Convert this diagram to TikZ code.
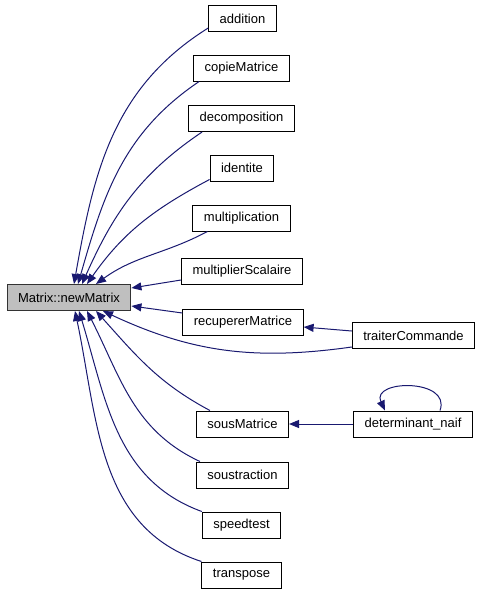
\documentclass[tikz,border=0pt]{standalone}
\usepackage{fontspec}
\setmainfont{Liberation Sans}
\usepackage{tikz}
\usetikzlibrary{arrows.meta}

\definecolor{edgeblue}{RGB}{25,25,112}
\tikzset{
  fn/.style={draw=black, fill=white, line width=1pt, minimum height=26pt,
    inner xsep=11pt, font=\fontsize{13}{15}\selectfont},
  cur/.style={fn, fill=black!25, draw=black!80},
  call/.style={<-, draw=edgeblue, line width=1pt},
}

\begin{document}
\begin{tikzpicture}[x=1pt,y=-1pt,>={Triangle[length=10pt,width=8pt]}]
            \useasboundingbox (0,0) rectangle (480,595);
            % called function
            \node[cur] (nm) at (69,297.5) {Matrix::newMatrix};
            % callers
            \node[fn] (addition) at (242.5,18.5) {addition};
            \node[fn] (copie) at (241.5,68) {copieMatrice};
            \node[fn] (decomp) at (241.5,118.5) {decomposition};
            \node[fn] (identite) at (242,168) {identite};
            \node[fn] (mult) at (241.5,218) {multiplication};
            \node[fn] (multsc) at (242,271) {multiplierScalaire};
            \node[fn] (recup) at (243,322) {recupererMatrice};
            \node[fn] (traiter) at (413.5,335.5) {traiterCommande};
            \node[fn] (sous) at (242.5,424) {sousMatrice};
            \node[fn] (detnaif) at (413,424) {determinant\_naif};
            \node[fn] (soustr) at (242.5,475) {soustraction};
            \node[fn] (speed) at (241.5,525) {speedtest};
            \node[fn] (transp) at (241.5,575) {transpose};
            % edges
            \draw[call] ([xshift=5pt]nm.north) to[out=80,in=212] ([yshift=4pt]addition.south west);
            \draw[call] ([xshift=9pt]nm.north) to[out=74,in=214] ([xshift=6pt]copie.south west);
            \draw[call] ([xshift=13pt]nm.north) to[out=66,in=214] ([xshift=14pt]decomp.south west);
            \draw[call] ([xshift=18pt]nm.north) to[out=55,in=208] ([yshift=2pt]identite.south west);
            \draw[call] ([xshift=27pt]nm.north) to[out=36,in=208] ([xshift=15pt]mult.south west);
            \draw[call] ([yshift=9.5pt]nm.east) -- ([yshift=-9pt]multsc.west);
            \draw[call] ([yshift=-8.5pt]nm.east) -- ([yshift=9pt]recup.west);
            \draw[call] ([xshift=34pt]nm.south) to[out=-25,in=188] ([yshift=2pt]traiter.south west);
            \draw[call] ([yshift=-5pt]recup.east) -- ([yshift=4.5pt]traiter.west);
            \draw[call] ([xshift=27pt]nm.south) to[out=-48,in=152] ([xshift=14pt]sous.north west);
            \draw[call] ([xshift=18pt]nm.south) to[out=-63,in=155] ([xshift=4pt]soustr.north west);
            \draw[call] ([xshift=10pt]nm.south) to[out=-73,in=160] (speed.north west);
            \draw[call] ([xshift=6pt]nm.south) to[out=-78,in=162] (transp.north west);
            \draw[call] (sous.east) -- (detnaif.west);
            \draw[call] ([xshift=-28pt]detnaif.north) to[out=115,in=70,looseness=1.6] ([xshift=27pt]detnaif.north);
        \end{tikzpicture}
\end{document}
